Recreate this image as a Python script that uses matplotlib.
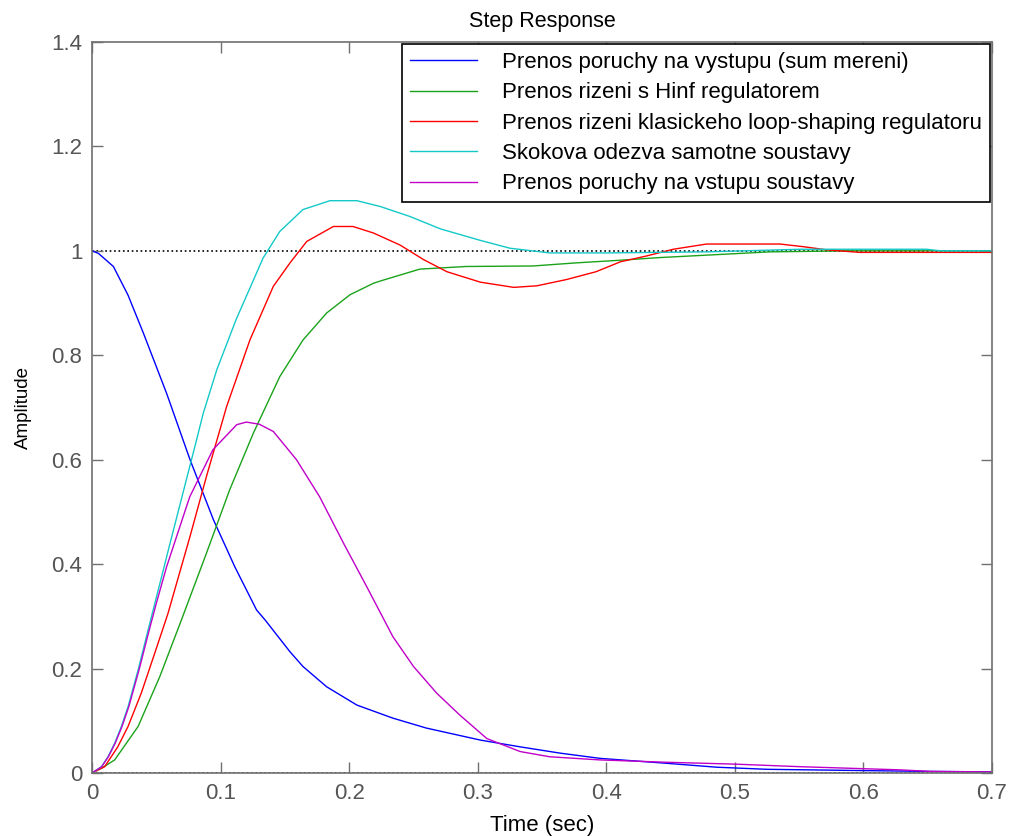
import numpy as np
import matplotlib
matplotlib.use('Agg')
import matplotlib.pyplot as plt

plt.rcParams['font.family'] = ['Liberation Sans', 'DejaVu Sans']

# values
t_out = [0, 0.005, 0.0166, 0.028, 0.04, 0.058, 0.0762, 0.0944, 0.111, 0.128, 0.1346, 0.154, 0.164,
         0.1825, 0.206, 0.234, 0.26, 0.302, 0.333, 0.364, 0.395, 0.447, 0.486, 0.525, 0.602, 0.65, 0.7]
y_out = [1.0, 0.995, 0.970, 0.915, 0.842, 0.727, 0.600, 0.485, 0.395, 0.312, 0.293, 0.232, 0.204,
         0.165, 0.130, 0.105, 0.086, 0.063, 0.050, 0.038, 0.028, 0.0185, 0.011, 0.007, 0.0045, 0.003, 0.002]

t_hinf = [0, 0.008, 0.0176, 0.0358, 0.0526, 0.0695, 0.089, 0.107, 0.1255, 0.146, 0.164, 0.1825, 0.2007,
          0.219, 0.2266, 0.255, 0.291, 0.343, 0.377, 0.411, 0.441, 0.488, 0.527, 0.589, 0.7]
y_hinf = [0, 0.010, 0.025, 0.089, 0.184, 0.293, 0.421, 0.542, 0.651, 0.759, 0.829, 0.881, 0.916,
          0.938, 0.944, 0.965, 0.970, 0.971, 0.977, 0.982, 0.987, 0.993, 0.998, 1.0, 1.0]

t_loop = [0, 0.0098, 0.020, 0.028, 0.0383, 0.0487, 0.059, 0.0762, 0.089, 0.1047, 0.1229, 0.141, 0.154,
          0.167, 0.1877, 0.203, 0.219, 0.2396, 0.258, 0.276, 0.302, 0.328, 0.346, 0.369, 0.392, 0.411,
          0.431, 0.452, 0.478, 0.535, 0.553, 0.571, 0.597, 0.7]
y_loop = [0, 0.012, 0.050, 0.089, 0.153, 0.229, 0.305, 0.453, 0.568, 0.702, 0.830, 0.932, 0.977,
          1.018, 1.0466, 1.0466, 1.034, 1.011, 0.983, 0.960, 0.940, 0.930, 0.933, 0.945, 0.960, 0.979,
          0.990, 1.003, 1.013, 1.013, 1.008, 1.002, 0.997, 0.997]

t_plant = [0, 0.0073, 0.0124, 0.0176, 0.0228, 0.028, 0.0358, 0.0436, 0.0607, 0.0813, 0.0865, 0.097,
           0.112, 0.133, 0.146, 0.164, 0.185, 0.206, 0.224, 0.247, 0.271, 0.302, 0.325, 0.356,
           0.40, 0.478, 0.551, 0.649, 0.66, 0.7]
y_plant = [0, 0.012, 0.031, 0.057, 0.089, 0.127, 0.197, 0.274, 0.44, 0.638, 0.689, 0.772,
           0.868, 0.986, 1.037, 1.079, 1.096, 1.096, 1.085, 1.066, 1.042, 1.020, 1.005, 0.996,
           0.996, 0.998, 1.003, 1.003, 1.0, 1.0]

t_in = [0, 0.0075, 0.0127, 0.018, 0.0233, 0.0286, 0.0365, 0.0445, 0.05, 0.058, 0.076, 0.094, 0.1125,
        0.120, 0.130, 0.141, 0.159, 0.177, 0.1956, 0.2136, 0.234, 0.25, 0.268, 0.286, 0.307, 0.333,
        0.356, 0.395, 0.447, 0.499, 0.551, 0.628, 0.652, 0.7]
y_in = [0, 0.012, 0.031, 0.057, 0.089, 0.127, 0.197, 0.274, 0.325, 0.395, 0.529, 0.619, 0.667,
        0.672, 0.668, 0.654, 0.600, 0.529, 0.44, 0.357, 0.261, 0.204, 0.153, 0.111, 0.066, 0.041,
        0.031, 0.025, 0.0205, 0.017, 0.012, 0.006, 0.003, 0.002]

labels = ['Prenos poruchy na vystupu (sum mereni)',
          'Prenos rizeni s Hinf regulatorem',
          'Prenos rizeni klasickeho loop-shaping regulatoru',
          'Skokova odezva samotne soustavy',
          'Prenos poruchy na vstupu soustavy']

xticks = [0, 0.1, 0.2, 0.3, 0.4, 0.5, 0.6, 0.7]
xticklabels = ['0', '0.1', '0.2', '0.3', '0.4', '0.5', '0.6', '0.7']
yticks = [0, 0.2, 0.4, 0.6, 0.8, 1.0, 1.2, 1.4]
yticklabels = ['0', '0.2', '0.4', '0.6', '0.8', '1', '1.2', '1.4']

fig = plt.figure(figsize=(10.16, 8.36), dpi=100)
ax = fig.add_axes([0.0906, 0.0754, 0.8858, 0.8744])

ax.axhline(1.0, color='k', ls=':', lw=1.2, zorder=1)
ax.axhline(0.0, color='k', ls=':', lw=1.2, zorder=1)

ax.plot(t_out, y_out, color='#0000ff', lw=1, label=labels[0])
ax.plot(t_hinf, y_hinf, color='#1aa31a', lw=1, label=labels[1])
ax.plot(t_loop, y_loop, color='#ff0000', lw=1, label=labels[2])
ax.plot(t_plant, y_plant, color='#14c8c8', lw=1, label=labels[3])
ax.plot(t_in, y_in, color='#c000c8', lw=1, label=labels[4])

ax.set_xlim(0, 0.7)
ax.set_ylim(0, 1.4)
ax.set_xticks(xticks)
ax.set_xticklabels(xticklabels)
ax.set_yticks(yticks)
ax.set_yticklabels(yticklabels)
ax.tick_params(direction='in', length=8, width=1, colors='#707070', labelcolor='#555555',
               labelsize=16, top=True, right=True, pad=7)
for s in ax.spines.values():
    s.set_color('#707070')
    s.set_linewidth(1.2)

ax.set_title('Step Response', fontsize=15.5, pad=11)
ax.set_xlabel('Time (sec)', fontsize=16, labelpad=8)
ax.set_ylabel('Amplitude', fontsize=13.5, labelpad=14)

leg = ax.legend(loc='upper right', fontsize=16, handlelength=3.0, handletextpad=1.15,
                borderpad=0.35, labelspacing=0.42, fancybox=False, framealpha=1,
                borderaxespad=0.1)
leg.get_frame().set_edgecolor('k')
leg.get_frame().set_linewidth(1.2)

plt.savefig('out.png', dpi=100)
